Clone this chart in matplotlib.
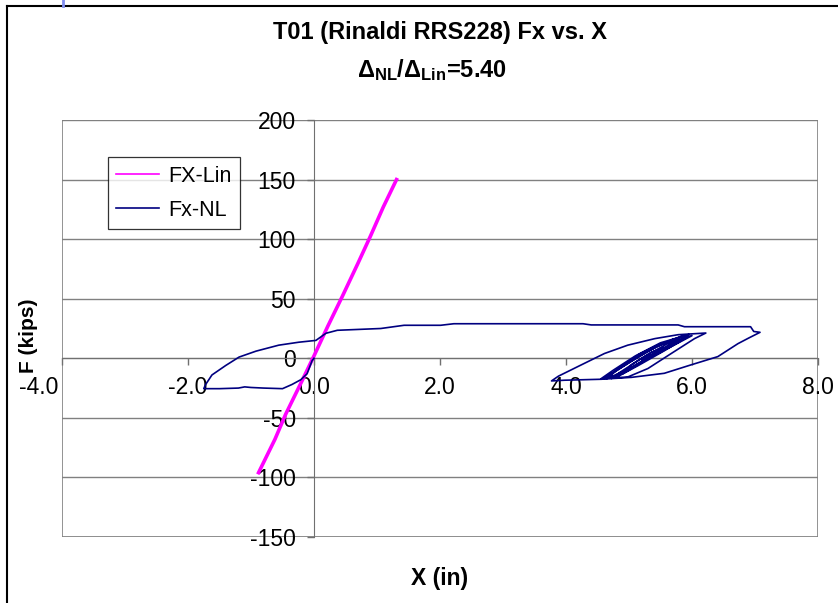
import matplotlib
matplotlib.use("Agg")
import matplotlib.pyplot as plt
from matplotlib.patches import Rectangle
from matplotlib.lines import Line2D
from matplotlib.transforms import ScaledTranslation

plt.rcParams['font.family'] = ['Liberation Sans', 'DejaVu Sans']
plt.rcParams['mathtext.fontset'] = 'custom'
plt.rcParams['mathtext.rm'] = 'Liberation Sans'
plt.rcParams['mathtext.bf'] = 'Liberation Sans:bold'
plt.rcParams['axes.unicode_minus'] = False

# linear model response (in, kips)
x_lin = [-0.88, -0.62, -0.45, -0.2, 0.0, 0.22, 0.45, 0.7, 0.9, 1.1, 1.31]
f_lin = [-96, -68, -47, -20, 2, 27, 52, 80, 103, 127, 150]

# nonlinear model response (in, kips)
x_nl = [0.0, -0.03, -0.11, -0.21, -0.35, -0.5, -0.8, -1.0, -1.1, -1.2, -1.5, -1.75,
        -1.72, -1.62, -1.4, -1.19, -0.92, -0.56, -0.24, 0.03, 0.19, 0.37, 1.06, 1.43,
        2.01, 2.22, 3.0, 3.89, 4.27, 4.4, 5.78, 5.88, 6.93, 6.98, 7.08,
        6.9, 6.73, 6.41, 5.98, 5.56, 5.04, 4.56, 3.98, 3.77,
        3.88, 4.24, 4.61, 4.98, 5.41, 5.78, 6.22,
        6.04, 5.67, 5.3, 4.98, 4.56,
        4.75, 5.1, 5.5, 5.95, 5.8, 5.4, 5.0, 4.65,
        4.7, 5.05, 5.45, 5.85, 5.9, 5.55, 5.15, 4.8,
        4.62, 4.9, 5.3, 5.7, 6.0, 5.75, 5.35, 4.95, 4.72,
        4.85, 5.2, 5.6, 5.8, 5.6, 5.25, 4.9, 4.68,
        4.8, 5.15, 5.5, 5.75, 5.5, 5.2, 4.95,
        5.05, 5.35, 5.55, 5.4, 5.2]
f_nl = [0.0, -2, -13, -18, -22, -25.5, -25, -24.5, -24, -25, -25.5, -25.5,
        -22, -14, -6, 1, 6, 11, 13.5, 15, 21, 23.5, 25, 27.7,
        27.7, 29, 29, 29, 29, 28, 28, 26.5, 26.5, 22.5, 21.8,
        17, 12.3, 1.4, -5.6, -12.6, -16, -17.6, -18.4, -19,
        -15, -5.6, 4, 11, 16.5, 19.8, 21.2,
        16.5, 4, -8.6, -15.7, -17,
        -10, 2, 13, 20, 15, 4, -9, -17,
        -14, -2, 10, 19, 17, 6, -6, -16,
        -16, -7, 6, 16, 19, 12, 1, -11, -17,
        -12, 0, 12, 16, 9, -2, -13, -16,
        -10, 3, 12, 15, 7, -3, -10,
        -5, 5, 9, 4, -1]

x_ticks = [-4, -2, 0, 2, 4, 6, 8]
x_tick_labels = ['-4.0', '-2.0', '0.0', '2.0', '4.0', '6.0', '8.0']
y_ticks = [-150, -100, -50, 0, 50, 100, 150, 200]

W, H = 838, 603
fig = plt.figure(figsize=(W / 100, H / 100), dpi=100)
ax = fig.add_axes([62 / W, 1 - 537 / H, (818 - 62) / W, (537 - 120) / H])

# chart area border (left and top edges visible)
fig.add_artist(Line2D([7 / W, 7 / W], [0, 1 - 6 / H], transform=fig.transFigure, color='black', lw=1.5))
fig.add_artist(Line2D([7 / W, 1], [1 - 6 / H, 1 - 6 / H], transform=fig.transFigure, color='black', lw=1.5))
fig.add_artist(Line2D([63 / W, 63 / W], [1 - 6 / H, 1], transform=fig.transFigure, color='#7f8cf0', lw=2))

ax.plot(x_lin, f_lin, color='#ff00ff', lw=2.6, label='FX-Lin', zorder=3)
ax.plot(x_nl, f_nl, color='#000080', lw=1.2, label='Fx-NL', zorder=4)

ax.set_xlim(-4, 8)
ax.set_ylim(-150, 200)
ax.set_xticks(x_ticks)
ax.set_xticklabels(x_tick_labels)
ax.set_yticks(y_ticks)

ax.yaxis.grid(True, color='#808080', lw=1.0)
ax.set_axisbelow(True)
for s in ['top', 'right']:
    ax.spines[s].set_visible(False)
ax.spines['left'].set_position(('data', 0))
ax.spines['bottom'].set_position(('data', 0))
ax.spines['left'].set_color('#707070')
ax.spines['bottom'].set_color('#707070')
ax.add_patch(Rectangle((0, 0), 1, 1, transform=ax.transAxes, fill=False,
                       ec='#808080', lw=1.2, zorder=0))
ax.tick_params(axis='both', direction='out', length=5, width=1, color='#707070',
               labelsize=16.5)
ax.tick_params(axis='x', pad=8)
ax.tick_params(axis='y', pad=8)
first = ax.get_xticklabels()[0]
first.set_horizontalalignment('right')
first.set_transform(first.get_transform() + ScaledTranslation(-0.04, 0, fig.dpi_scale_trans))

fig.text(440 / W, 1 - 33 / H, 'T01 (Rinaldi RRS228) Fx vs. X', ha='center', va='center',
         fontsize=17, fontweight='bold')
fig.text(432 / W, 1 - 70 / H, r'$\mathbf{\Delta_{NL}/\Delta_{Lin}}$=5.40', ha='center',
         va='center', fontsize=17, fontweight='bold')
fig.text(28 / W, 1 - 336 / H, 'F (kips)', rotation=90, ha='center', va='center',
         fontsize=15, fontweight='bold')
fig.text(440 / W, 1 - 578 / H, 'X (in)', ha='center', va='center',
         fontsize=16.5, fontweight='bold')

leg = ax.legend(loc='upper left', bbox_to_anchor=(107.5 / W, 1 - 157 / H),
                bbox_transform=fig.transFigure, fontsize=15.5, frameon=True,
                fancybox=False, borderpad=0.4, labelspacing=0.6, handlelength=2.0,
                handletextpad=0.4, borderaxespad=0)
leg.get_frame().set_edgecolor('black')
leg.get_frame().set_linewidth(0.9)
for h in leg.get_lines():
    h.set_linewidth(1.2)

fig.savefig('out.png', dpi=100)
